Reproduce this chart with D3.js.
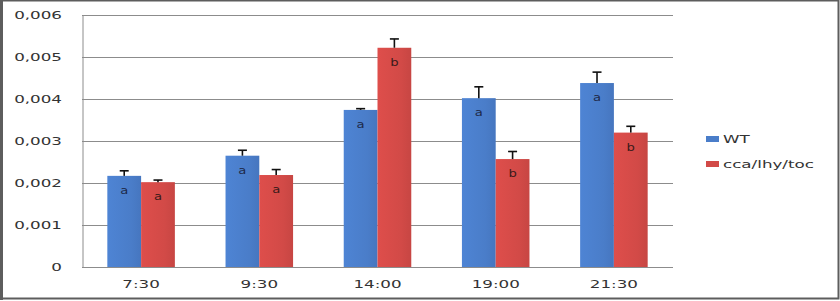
<!DOCTYPE html>
<html>
<head>
<meta charset="utf-8">
<script src="https://cdn.jsdelivr.net/npm/d3@7/dist/d3.min.js"></script>
<style>
html,body{margin:0;padding:0;background:#fff;}
svg{display:block;}
text{font-family:"DejaVu Sans",Verdana,sans-serif;}
</style>
</head>
<body>
<svg id="chart" width="840" height="301"></svg>
<script>
const categories = ["7:30", "9:30", "14:00", "19:00", "21:30"];
const seriesNames = ["WT", "cca/lhy/toc"];
const wtValues = [0.00217, 0.00265, 0.00374, 0.00402, 0.00438];
const wtErrors = [0.00012, 0.00013, 0.00003, 0.00027, 0.00026];
const mutValues = [0.00202, 0.00219, 0.00522, 0.00257, 0.00320];
const mutErrors = [0.00005, 0.00013, 0.00021, 0.00018, 0.00015];
const wtLetters = ["a", "a", "a", "a", "a"];
const mutLetters = ["a", "a", "b", "b", "b"];
const yTicks = [0, 0.001, 0.002, 0.003, 0.004, 0.005, 0.006];

const colors = ["#4a7dc9", "#d24a47"];
const SX = 1.52;

const svg = d3.select("#chart");

// outer frame
svg.append("rect").attr("x", 1).attr("y", 0.5).attr("width", 837.5).attr("height", 298)
  .attr("fill", "#fff").attr("stroke", "#5d5d5d").attr("stroke-width", 2);
svg.append("line").attr("x1", 1.5).attr("x2", 1.5).attr("y1", 0).attr("y2", 300)
  .attr("stroke", "#5d5d5d").attr("stroke-width", 3);

const plotL = 82, plotR = 673, plotT = 15, plotB = 267;

const y = d3.scaleLinear().domain([0, 0.006]).range([plotB, plotT]);
const x0 = d3.scaleBand().domain(categories).range([plotL, plotR])
  .paddingInner(1.5 / 3.5).paddingOuter(0.75 / 3.5);
const x1 = d3.scaleBand().domain(seriesNames).range([0, x0.bandwidth()]);

const fmt = v => v === 0 ? "0" : d3.format(".3f")(v).replace(".", ",");

// gridlines
svg.append("g").selectAll("line").data(yTicks.filter(d => d > 0)).join("line")
  .attr("x1", plotL).attr("x2", plotR)
  .attr("y1", d => Math.round(y(d)) + 0.5).attr("y2", d => Math.round(y(d)) + 0.5)
  .attr("stroke", "#8c8c8c").attr("stroke-width", 1);

// y axis via d3
const yAxis = d3.axisLeft(y).tickValues(yTicks).tickFormat(fmt).tickSize(0).tickPadding(0);
const gy = svg.append("g").attr("transform", `translate(${plotL + 0.5},0)`).call(yAxis);
gy.select(".domain").attr("stroke", "#8c8c8c");
gy.selectAll("text").remove();
svg.append("g").selectAll("text").data(yTicks).join("text")
  .attr("transform", d => `translate(62,${y(d) + 4}) scale(${SX},1)`)
  .attr("text-anchor", "end").attr("font-size", 11).attr("fill", "#333")
  .text(fmt);

// x axis
const xAxis = d3.axisBottom(x0).tickSize(0).tickPadding(0);
const gx = svg.append("g").attr("transform", `translate(0,${plotB + 0.5})`).call(xAxis);
gx.select(".domain").attr("stroke", "#8c8c8c").attr("d", `M${plotL},0H${plotR}`);
gx.selectAll("text").remove();
svg.append("g").selectAll("text").data(categories).join("text")
  .attr("transform", d => `translate(${x0(d) + x0.bandwidth() / 2},288) scale(${SX},1)`)
  .attr("text-anchor", "middle").attr("font-size", 11).attr("fill", "#333")
  .text(d => d);

// bars
const series = [
  {name: seriesNames[0], values: wtValues, errs: wtErrors, letters: wtLetters, color: colors[0]},
  {name: seriesNames[1], values: mutValues, errs: mutErrors, letters: mutLetters, color: colors[1]}
];

const defs = svg.append("defs");
series.forEach((s, i) => {
  const g = defs.append("linearGradient").attr("id", "grad" + i)
    .attr("x1", 0).attr("x2", 1).attr("y1", 0).attr("y2", 0);
  g.append("stop").attr("offset", "0%").attr("stop-color", d3.color(s.color).brighter(0.15));
  g.append("stop").attr("offset", "70%").attr("stop-color", s.color);
  g.append("stop").attr("offset", "100%").attr("stop-color", d3.color(s.color).darker(0.15));
});

series.forEach((s, si) => {
  const g = svg.append("g");
  const data = categories.map((c, i) => ({c, v: s.values[i], e: s.errs[i], l: s.letters[i]}));
  g.selectAll("rect").data(data).join("rect")
    .attr("x", d => x0(d.c) + x1(s.name))
    .attr("y", d => y(d.v))
    .attr("width", x1.bandwidth())
    .attr("height", d => y(0) - y(d.v))
    .attr("fill", `url(#grad${si})`);
  // error bars
  g.selectAll("line.err").data(data).join("line").attr("class", "err")
    .attr("x1", d => x0(d.c) + x1(s.name) + x1.bandwidth() / 2)
    .attr("x2", d => x0(d.c) + x1(s.name) + x1.bandwidth() / 2)
    .attr("y1", d => y(d.v)).attr("y2", d => y(d.v + d.e))
    .attr("stroke", "#111").attr("stroke-width", 1.6);
  g.selectAll("line.cap").data(data).join("line").attr("class", "cap")
    .attr("x1", d => x0(d.c) + x1(s.name) + x1.bandwidth() / 2 - 4.5)
    .attr("x2", d => x0(d.c) + x1(s.name) + x1.bandwidth() / 2 + 4.5)
    .attr("y1", d => y(d.v + d.e)).attr("y2", d => y(d.v + d.e))
    .attr("stroke", "#111").attr("stroke-width", 1.6);
  // letters
  g.selectAll("text").data(data).join("text")
    .attr("transform", d => `translate(${x0(d.c) + x1(s.name) + x1.bandwidth() / 2},${y(d.v) + 18}) scale(1.2,1)`)
    .attr("text-anchor", "middle").attr("font-size", 11)
    .attr("fill", si === 0 ? "#1e2a4a" : "#3a1a1a")
    .text(d => d.l);
});

// legend
const leg = svg.append("g");
series.forEach((s, i) => {
  const yy = 142 + i * 25;
  leg.append("rect").attr("x", 706).attr("y", yy - 6).attr("width", 13).attr("height", 6)
    .attr("fill", s.color);
  leg.append("text")
    .attr("transform", `translate(723,${yy + 1}) scale(${SX},1)`)
    .attr("font-size", 11).attr("fill", "#333").text(s.name);
});
</script>
</body>
</html>
